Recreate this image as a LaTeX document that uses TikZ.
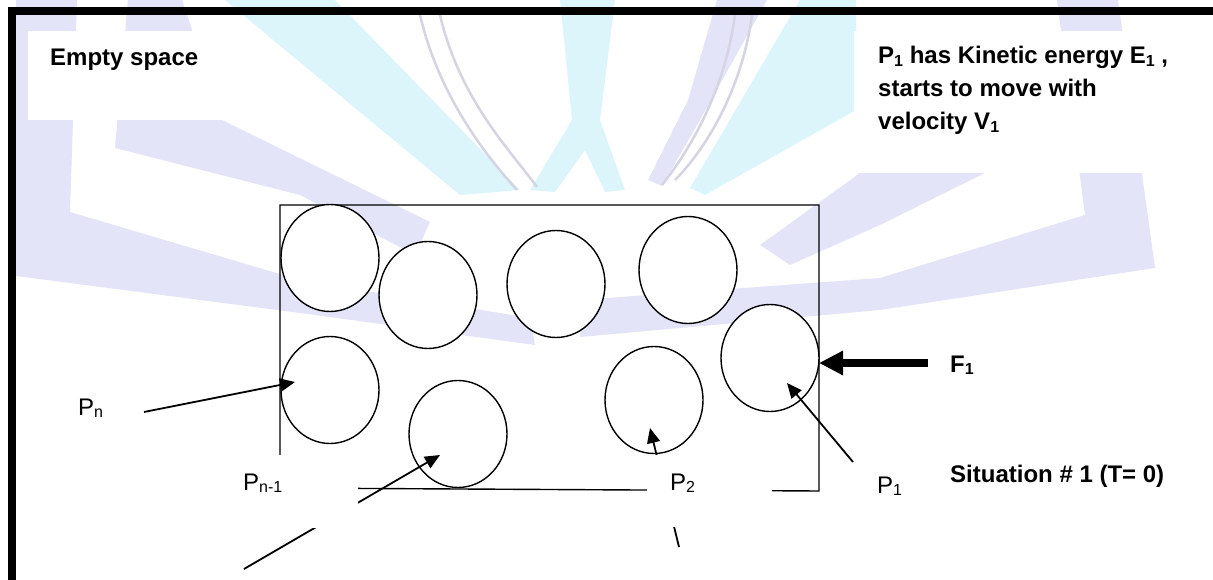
\documentclass[tikz,border=0pt]{standalone}
\usepackage{fontspec}
\setmainfont{Liberation Sans}
\usepackage{graphicx}
\usetikzlibrary{shapes.geometric,arrows.meta}
\definecolor{lav}{RGB}{228,228,248}
\definecolor{cya}{RGB}{220,245,251}
\definecolor{lavline}{RGB}{212,212,226}
\newcommand\sbs[1]{\raisebox{-2.5pt}{\fontsize{16}{16}\selectfont #1}}
\begin{document}
\begin{tikzpicture}[x={(1pt,0pt)},y={(0pt,-1pt)},
  particle/.style={ellipse,draw,fill=white,line width=1.4pt,minimum width=98pt,minimum height=107pt,inner sep=0pt},
  wbox/.style={fill=white,draw=none},
  boldtxt/.style={font=\fontsize{24}{33}\selectfont\bfseries,anchor=base west,inner sep=0pt},
  lbl/.style={font=\fontsize{24}{28}\selectfont,anchor=base west,inner sep=0pt},
  thinarrow/.style={line width=1.8pt,-{Triangle[length=15pt,width=13pt]}},
  force/.style={line width=8pt,-{Triangle[length=24pt,width=23pt]}},
  wmline/.style={lavline,line width=2.5pt}]
\useasboundingbox (0,0) rectangle (1213,580);
\fill[white] (0,0) rectangle (1213,580);
% ---- watermark ----
\fill[cya] (225,0) -- (335,0) -- (520,190) -- (460,195) -- cycle;
\fill[cya] (560,0) -- (615,0) -- (600,120) -- (625,190) -- (605,192) -- (585,150) -- (555,192) -- (530,190) -- (572,120) -- cycle;
\fill[cya] (800,0) -- (856,0) -- (856,110) -- (705,195) -- (690,188) -- cycle;
\fill[lav] (16,0) -- (77,0) -- (70,212) -- (300,280) -- (530,318) -- (535,345) -- (300,313) -- (16,276) -- cycle;
\fill[lav] (128,0) -- (182,0) -- (222,120) -- (430,222) -- (415,255) -- (300,195) -- (115,148) -- cycle;
\fill[lav] (717,0) -- (767,0) -- (700,120) -- (662,186) -- (648,180) -- (688,100) -- cycle;
\fill[lav] (1057,0) -- (1118,0) -- (1155,268) -- (880,310) -- (580,337) -- (580,300) -- (880,278) -- (1085,215) -- cycle;
\fill[lav] (860,173) -- (985,173) -- (880,225) -- (790,265) -- (760,245) -- cycle;
\draw[wmline] (420,15) .. controls (440,100) and (490,160) .. (517,190);
\draw[wmline] (440,15) .. controls (460,100) and (510,150) .. (537,187);
\draw[wmline] (735,15) .. controls (725,90) and (690,150) .. (662,185);
\draw[wmline] (752,15) .. controls (742,90) and (705,150) .. (675,180);
% ---- frame ----
\draw[line width=8pt,line join=miter] (11.5,580) -- (11.5,11.5) -- (1213,11.5);
% ---- text boxes ----
\fill[wbox] (28,31) rectangle (246,120);
\node[boldtxt] (empty) at (50,66) {Empty space};
\fill[wbox] (854,31) rectangle (1150,173);
\node[boldtxt] (t1) at (878,64) {P\sbs{1} has Kinetic energy E\sbs{1} ,};
\node[boldtxt] (t2) at (878,97) {starts to move with};
\node[boldtxt] (t3) at (878,130) {velocity V\sbs{1}};
% ---- container ----
\draw[line width=1.4pt] (280,205) -- (819,205) -- (819,491) -- (280,488) -- cycle;
% ---- particles ----
\node[particle] (c1) at (330,258) {};
\node[particle] (c2) at (428,295) {};
\node[particle] (c3) at (556,284) {};
\node[particle] (c4) at (688,270) {};
\node[particle] (c5) at (330,390) {};
\node[particle] (c6) at (458,434) {};
\node[particle] (c7) at (654,400) {};
\node[particle] (c8) at (770,358) {};
% ---- arrows ----
\coordinate (pnT) at (144,412);
\coordinate (pnH) at (295,382);
\coordinate (pn1T) at (244,569);
\coordinate (pn1H) at (440,455);
\coordinate (p2T) at (679,547);
\coordinate (p2H) at (650,428);
\coordinate (p1T) at (853,462);
\coordinate (p1H) at (787,383);
\coordinate (fT) at (928,363);
\coordinate (fH) at (819,363);
\draw[thinarrow] (pnT) -- (pnH);
\draw[thinarrow] (pn1T) -- (pn1H);
\draw[thinarrow] (p2T) -- (p2H);
\draw[thinarrow] (p1T) -- (p1H);
\draw[force] (fT) -- (fH);
% ---- label boxes (white, hide parts of lines) ----
\fill[wbox] (233,455) rectangle (358,528);
\fill[wbox] (647,455) rectangle (772,527);
% ---- labels ----
\node[lbl] (lpn) at (78,415) {P\sbs{n}};
\node[lbl] (lpn1) at (243,490) {P\sbs{n-1}};
\node[lbl] (lp2) at (670,490) {P\sbs{2}};
\node[lbl] (lp1) at (877,493) {P\sbs{1}};
\node[boldtxt] (lf) at (950,372) {F\sbs{1}};
\node[boldtxt] (sit) at (950,482) {Situation \# 1 (T= 0)};
\end{tikzpicture}
\end{document}
